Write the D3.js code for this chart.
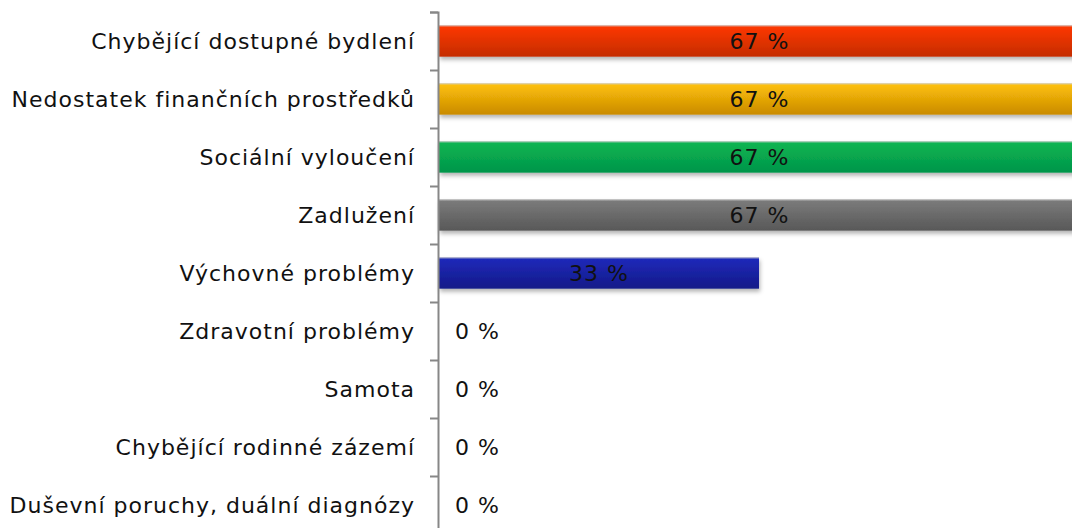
<!DOCTYPE html>
<html>
<head>
<meta charset="utf-8">
<script src="https://cdn.jsdelivr.net/npm/d3@7"></script>
<style>
    body { margin: 0; background: #fff; }
    svg { display: block; font-family: "DejaVu Sans", Verdana, sans-serif; }
</style>
</head>
<body>
<div class="chart-container"></div>
<script>
const categories = [
    "Chybějící dostupné bydlení",
    "Nedostatek finančních prostředků",
    "Sociální vyloučení",
    "Zadlužení",
    "Výchovné problémy",
    "Zdravotní problémy",
    "Samota",
    "Chybějící rodinné zázemí",
    "Duševní poruchy, duální diagnózy"
];
const values = [66.7, 66.7, 66.7, 66.7, 33.3, 0, 0, 0, 0];
const barColors = [
    ["#ff3805", "#c42c06"],
    ["#ffc20a", "#c98a02"],
    ["#0bb652", "#03954a"],
    ["#7c7c7c", "#585858"],
    ["#1f2abc", "#131a88"],
    ["#888", "#666"],
    ["#888", "#666"],
    ["#888", "#666"],
    ["#888", "#666"]
];

const chartWidth = 1072, chartHeight = 528;
const axisX = 438;
const topY = 12, step = 58;
const fontSize = 22, letterSpacing = 1;

const svg = d3.select(".chart-container")
    .append("svg")
    .attr("width", chartWidth)
    .attr("height", chartHeight);

const defs = svg.append("defs");

barColors.forEach((c, i) => {
    const g = defs.append("linearGradient")
        .attr("id", `grad${i}`)
        .attr("x1", "0%").attr("y1", "0%")
        .attr("x2", "0%").attr("y2", "100%");
    g.append("stop").attr("offset", "0%").attr("stop-color", c[0]);
    g.append("stop").attr("offset", "100%").attr("stop-color", c[1]);
});

defs.append("filter")
    .attr("id", "shadow")
    .attr("x", "-5%").attr("y", "-20%")
    .attr("width", "110%").attr("height", "160%")
    .append("feDropShadow")
    .attr("dx", 1).attr("dy", 3)
    .attr("stdDeviation", 2)
    .attr("flood-color", "#000")
    .attr("flood-opacity", 0.3);

const yScale = d3.scaleBand()
    .domain(categories)
    .range([topY, topY + step * categories.length])
    .paddingInner(0.46)
    .paddingOuter(0.23);

const xScale = d3.scaleLinear()
    .domain([0, 100])
    .range([axisX + 1, axisX + 1 + 961]);

const barData = values.map((v, i) => ({ v, i })).filter(d => d.v > 0);
const bars = svg.append("g");

bars.selectAll("rect.bar")
    .data(barData)
    .join("rect")
    .attr("class", "bar")
    .attr("x", xScale(0))
    .attr("y", d => yScale(categories[d.i]))
    .attr("width", d => xScale(d.v) - xScale(0))
    .attr("height", yScale.bandwidth())
    .attr("fill", d => `url(#grad${d.i})`)
    .attr("filter", "url(#shadow)");

bars.selectAll("line.top")
    .data(barData)
    .join("line")
    .attr("class", "top")
    .attr("x1", xScale(0))
    .attr("x2", d => xScale(d.v))
    .attr("y1", d => yScale(categories[d.i]) + 0.5)
    .attr("y2", d => yScale(categories[d.i]) + 0.5)
    .attr("stroke", "#cfcfcf")
    .attr("stroke-width", 1);

// value labels
svg.append("g")
    .selectAll("text")
    .data(values)
    .join("text")
    .attr("x", d => d > 0 ? (xScale(0) + xScale(d)) / 2 : xScale(0) + 16)
    .attr("y", (d, i) => yScale(categories[i]) + yScale.bandwidth() / 2)
    .attr("dy", "0.36em")
    .attr("text-anchor", d => d > 0 ? "middle" : "start")
    .attr("font-size", fontSize)
    .attr("letter-spacing", letterSpacing)
    .attr("fill", "#111")
    .text(d => `${d3.format(".0f")(d)} %`);

// category labels
const yAxis = d3.axisLeft(yScale).tickSize(0).tickPadding(24);
const ax = svg.append("g")
    .attr("transform", `translate(${axisX + 1}, 0)`)
    .call(yAxis);
ax.select(".domain").remove();
ax.selectAll("text")
    .attr("font-size", fontSize)
    .attr("letter-spacing", letterSpacing)
    .attr("font-family", "DejaVu Sans, Verdana, sans-serif")
    .attr("fill", "#111")
    .attr("dy", "0.36em");

// axis line with ticks between categories
const tickScale = d3.scaleLinear()
    .domain([0, categories.length])
    .range([topY, topY + step * categories.length]);

const boundary = svg.append("g")
    .attr("transform", `translate(${axisX}, 0)`)
    .call(d3.axisLeft(tickScale).ticks(categories.length).tickFormat("").tickSize(8).tickSizeOuter(8));
boundary.select(".domain").attr("stroke", "#878787").attr("stroke-width", 2);
boundary.selectAll(".tick line").attr("stroke", "#878787").attr("stroke-width", 2);
</script>
</body>
</html>
